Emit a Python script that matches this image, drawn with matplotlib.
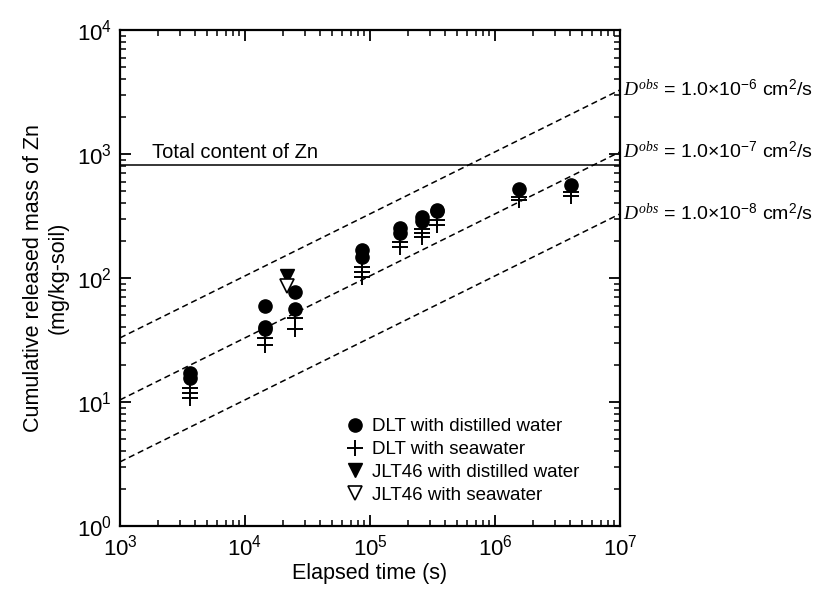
import matplotlib
matplotlib.use("Agg")
import matplotlib.pyplot as plt
import numpy as np
from matplotlib.ticker import LogLocator, LogFormatterMathtext, NullFormatter

plt.rcParams['font.family'] = ['Liberation Sans', 'DejaVu Sans']
plt.rcParams['mathtext.fontset'] = 'custom'
plt.rcParams['mathtext.rm'] = 'Liberation Sans'
plt.rcParams['mathtext.it'] = 'Liberation Serif:italic'
plt.rcParams['mathtext.bf'] = 'Liberation Sans:bold'

# Data
t_dlt_dw = [3600, 3600, 14400, 14400, 14400, 25200, 25200, 86400, 86400,
            172800, 172800, 259200, 259200, 345600, 345600, 1555200, 4060800]
m_dlt_dw = [17.1, 15.6, 59.5, 40.5, 38.5, 77, 56, 168, 148,
            253, 231, 313, 286, 353, 345, 522, 562]

t_dlt_sw = [3600, 3600, 3600, 14400, 14400, 25200, 25200, 86400, 86400, 86400,
            172800, 172800, 259200, 259200, 259200, 345600, 345600,
            1555200, 1555200, 4060800, 4060800]
m_dlt_sw = [13.0, 11.8, 10.8, 33, 29, 48, 39, 123, 112, 102,
            195, 178, 248, 231, 214, 294, 267,
            450, 425, 494, 458]

t_jlt_dw = [21600]
m_jlt_dw = [103]
t_jlt_sw = [21600]
m_jlt_sw = [87]

total_zn = 815
d_obs = [1e-6, 1e-7, 1e-8]
d_labels = ["-6", "-7", "-8"]
coef = 1040
t_line = np.array([1e3, 1e7])

fig = plt.figure(figsize=(8.26, 5.92), dpi=100)
ax = fig.add_axes([0.1453, 0.1115, 0.6053, 0.8378])

for d in d_obs:
    ax.plot(t_line, coef * np.sqrt(d * t_line), color='black', linestyle=(0, (4, 2.5)),
            linewidth=1.1)

ax.axhline(total_zn, color='black', linewidth=1.1)
ax.text(1800, total_zn * 1.05, "Total content of Zn", fontsize=14.5, ha='left', va='bottom')

ax.plot(t_dlt_dw, m_dlt_dw, 'o', color='black', markersize=9.5, linestyle='none',
        label="DLT with distilled water")
ax.plot(t_dlt_sw, m_dlt_sw, '+', color='black', markersize=11, markeredgewidth=1.4,
        linestyle='none', label="DLT with seawater")
ax.plot(t_jlt_dw, m_jlt_dw, 'v', color='black', markersize=10, linestyle='none',
        label="JLT46 with distilled water")
ax.plot(t_jlt_sw, m_jlt_sw, 'v', markerfacecolor='white', markeredgecolor='black',
        markersize=10, markeredgewidth=1.2, linestyle='none', label="JLT46 with seawater")

for d, lab in zip(d_obs, d_labels):
    yend = coef * np.sqrt(d * t_line[-1])
    ax.annotate(r"$D^{obs}$" + r" = 1.0×10$^{" + lab + r"}$ cm$^{2}$/s",
                xy=(1.0, yend), xycoords=('axes fraction', 'data'),
                xytext=(2, 0), textcoords='offset points',
                fontsize=14, ha='left', va='center', annotation_clip=False)

ax.set_xscale('log')
ax.set_yscale('log')
ax.set_xlim(1e3, 1e7)
ax.set_ylim(1e0, 1e4)

for axis in (ax.xaxis, ax.yaxis):
    axis.set_major_locator(LogLocator(base=10, numticks=10))
    axis.set_minor_locator(LogLocator(base=10, subs=np.arange(2, 10), numticks=20))
    axis.set_major_formatter(LogFormatterMathtext())
    axis.set_minor_formatter(NullFormatter())

ax.tick_params(which='both', direction='in', top=True, right=True, labelsize=16)
ax.tick_params(which='major', length=8, width=1.3, pad=6)
ax.tick_params(which='minor', length=4.5, width=1.1)
for s in ax.spines.values():
    s.set_linewidth(1.6)

ax.set_xlabel("Elapsed time (s)", fontsize=15.5, labelpad=2)
ax.set_ylabel("Cumulative released mass of Zn\n(mg/kg-soil)", fontsize=15.5, labelpad=6)

ax.legend(loc='lower left', bbox_to_anchor=(0.452, 0.045), frameon=False, fontsize=13.5,
          handlelength=1.0, handletextpad=0.4, labelspacing=0.3, borderpad=0,
          borderaxespad=0, numpoints=1)

fig.savefig("out.png", dpi=100)
